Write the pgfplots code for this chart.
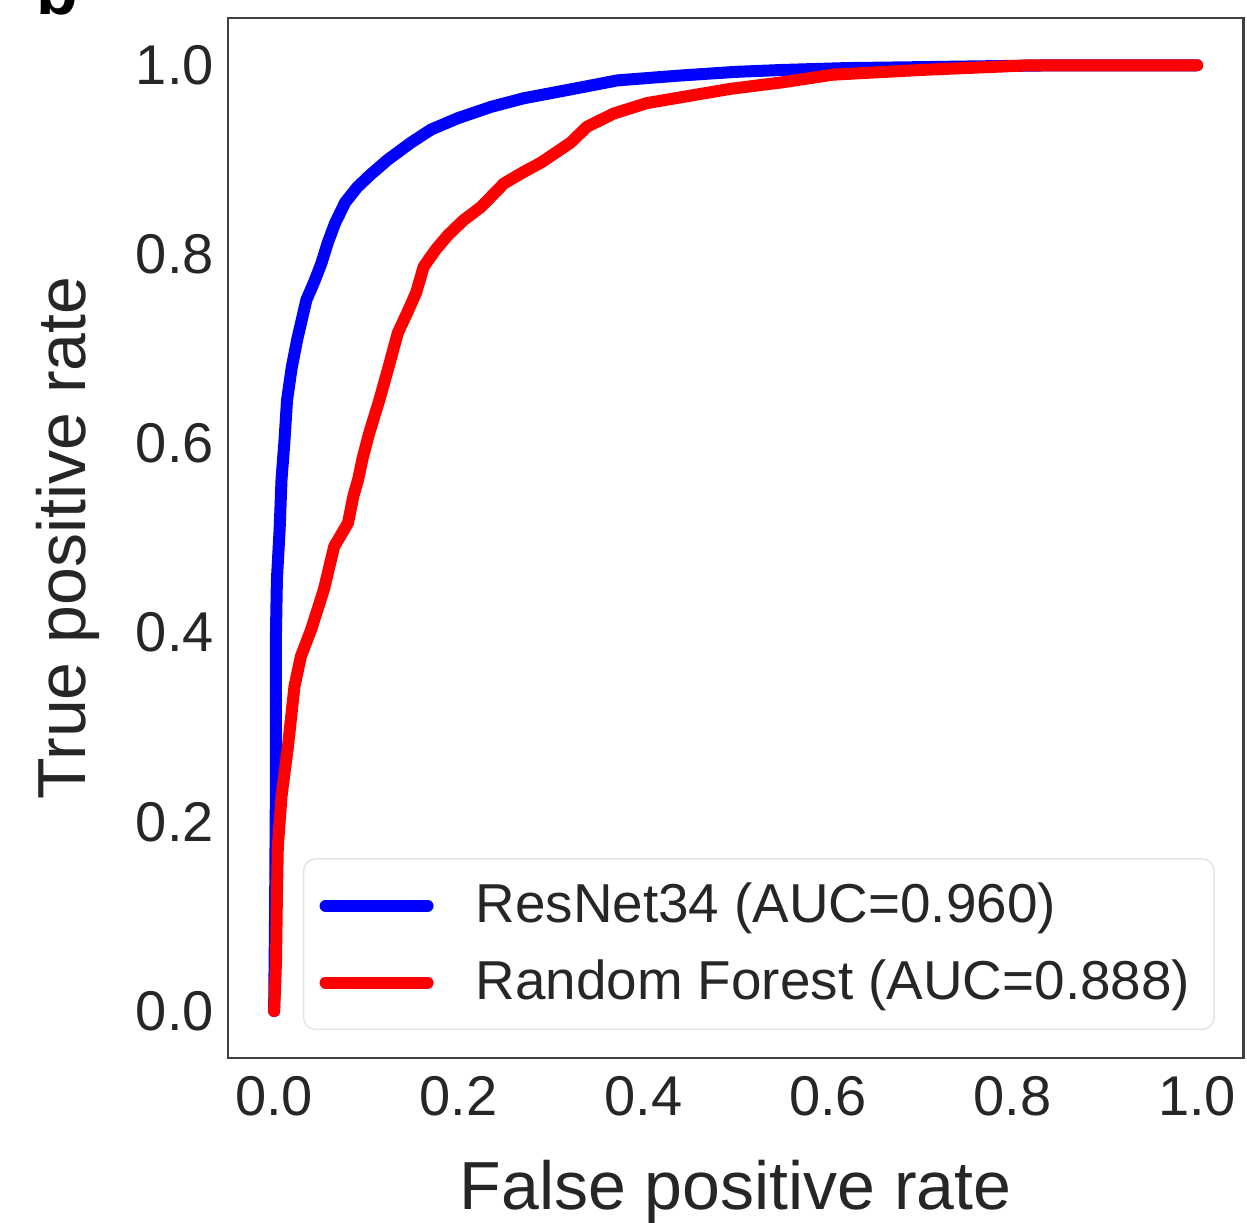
\documentclass[border=0pt]{standalone}
\usepackage{pgfplots}
\pgfplotsset{compat=1.18}
\usepackage{fontspec}
\setmainfont{Liberation Sans}

\definecolor{rocblue}{RGB}{0,0,255}
\definecolor{rocred}{RGB}{255,0,0}

\begin{document}
\begin{tikzpicture}
\begin{axis}[
    scale only axis,
    width=253.75pt, height=260pt,
    xmin=-0.05, xmax=1.05, ymin=-0.05, ymax=1.05,
    xtick={0,0.2,0.4,0.6,0.8,1},
    ytick={0,0.2,0.4,0.6,0.8,1},
    /pgf/number format/assume math mode=true,
    /pgf/number format/.cd, fixed, fixed zerofill, precision=1, /pgfplots/.cd,
    tick label style={font=\fontsize{14}{16}\selectfont, text=black!85},
    xticklabel style={yshift=-1pt},
    major tick length=0pt,
    axis line style={draw=black!75, line width=0.6pt},
    xlabel={False positive rate},
    ylabel={True positive rate},
    label style={font=\fontsize{17}{20}\selectfont, text=black!85},
    xlabel style={at={(axis description cs:0.5,-0.128)}, anchor=center},
    ylabel style={at={(axis description cs:-0.158,0.5)}, anchor=center},
    legend cell align=left,
    legend style={at={(axis description cs:0.972,0.027)}, anchor=south east,
        draw=black!10, rounded corners=3pt, fill=white,
        font=\fontsize{13.7}{16}\selectfont, text=black!85,
        inner xsep=4pt, inner ysep=4pt, row sep=3.75pt},
    legend image code/.code={
        \draw[#1, line cap=round] (0pt,0pt) -- (25.5pt,0pt);
        \path (34pt,0pt);
    },
]

% ResNet34
\addplot[rocblue, line width=3pt, line cap=round, line join=round] table {
0     0
0.001 0.10
0.002 0.25
0.002 0.40
0.003 0.456
0.006 0.510
0.008 0.562
0.011 0.600
0.014 0.646
0.019 0.680
0.025 0.710
0.035 0.752
0.043 0.770
0.051 0.790
0.058 0.812
0.066 0.833
0.077 0.855
0.090 0.871
0.104 0.884
0.123 0.900
0.148 0.918
0.170 0.932
0.199 0.944
0.235 0.956
0.270 0.965
0.324 0.975
0.372 0.984
0.438 0.989
0.500 0.993
0.550 0.995
0.620 0.997
0.700 0.998
0.850 1.000
1.000 1.000
};
\addlegendentry{ResNet34 (AUC=0.960)}

% Random Forest
\addplot[rocred, line width=3pt, line cap=round, line join=round] table {
0     0
0.002 0.05
0.003 0.12
0.004 0.174
0.008 0.227
0.015 0.280
0.022 0.343
0.029 0.375
0.040 0.403
0.054 0.446
0.065 0.491
0.080 0.516
0.086 0.545
0.091 0.562
0.096 0.585
0.103 0.611
0.114 0.646
0.124 0.681
0.134 0.717
0.145 0.740
0.154 0.760
0.162 0.787
0.175 0.805
0.188 0.820
0.205 0.836
0.224 0.850
0.249 0.875
0.270 0.887
0.289 0.897
0.321 0.918
0.339 0.935
0.368 0.949
0.404 0.960
0.440 0.966
0.494 0.975
0.551 0.982
0.605 0.990
0.700 0.995
0.820 1.000
1.000 1.000
};
\addlegendentry{Random Forest (AUC=0.888)}

\coordinate (bbsw) at (axis cs:-0.297,-0.2235);
\coordinate (bbne) at (axis cs:1.054,1.069);
\coordinate (blabel) at (axis cs:-0.258,1.054);
\end{axis}
\node[anchor=base west, inner sep=0pt, font=\fontsize{17}{17}\selectfont\bfseries] at (blabel) {b};
\pgfresetboundingbox
\useasboundingbox (bbsw) rectangle (bbne);
\end{tikzpicture}
\end{document}
